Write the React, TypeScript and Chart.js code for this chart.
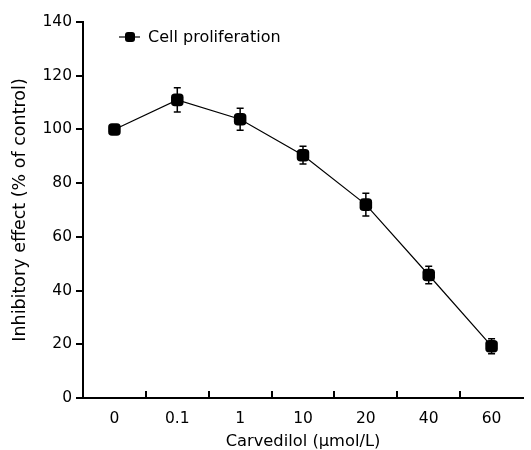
import React, { useEffect, useRef } from "react";
import { Chart, registerables } from "chart.js";

Chart.register(...registerables);

const categories = ["0", "0.1", "1", "10", "20", "40", "60"];
const values = [100, 111, 103.8, 90.4, 72, 45.8, 19.3];
const errors = [1.5, 4.5, 4.1, 3.3, 4.2, 3.3, 2.8];
const yTicks = [0, 20, 40, 60, 80, 100, 120, 140];
const seriesLabel = "Cell proliferation";
const xTitle = "Carvedilol (\u03BCmol/L)";
const yTitle = "Inhibitory effect (% of control)";

const FONT = "'DejaVu Sans', sans-serif";

const errorBarPlugin = {
  id: "errorBars",
  beforeDatasetsDraw(chart: any) {
    const { ctx } = chart;
    const x = chart.scales.x;
    const y = chart.scales.y;
    ctx.save();
    ctx.strokeStyle = "#000";
    ctx.lineWidth = 1.5;
    values.forEach((v, i) => {
      const px = x.getPixelForValue(i);
      const top = y.getPixelForValue(v + errors[i]);
      const bot = y.getPixelForValue(v - errors[i]);
      ctx.beginPath();
      ctx.moveTo(px, top);
      ctx.lineTo(px, bot);
      ctx.moveTo(px - 3.5, top);
      ctx.lineTo(px + 3.5, top);
      ctx.moveTo(px - 3.5, bot);
      ctx.lineTo(px + 3.5, bot);
      ctx.stroke();
    });
    ctx.restore();
  },
  afterDraw(chart: any) {
    const { ctx, chartArea } = chart;
    const x = chart.scales.x;
    ctx.save();
    ctx.strokeStyle = "#000";
    ctx.lineWidth = 2;
    for (let i = 0; i < categories.length - 1; i++) {
      const b = (x.getPixelForValue(i) + x.getPixelForValue(i + 1)) / 2;
      ctx.beginPath();
      ctx.moveTo(Math.round(b), chartArea.bottom);
      ctx.lineTo(Math.round(b), chartArea.bottom - 7);
      ctx.stroke();
    }
    const lx = chartArea.left + 36;
    const ly = chartArea.top + 15;
    ctx.lineWidth = 1.2;
    ctx.beginPath();
    ctx.moveTo(lx, ly);
    ctx.lineTo(lx + 21, ly);
    ctx.stroke();
    ctx.fillStyle = "#000";
    ctx.beginPath();
    (ctx as any).roundRect(lx + 6, ly - 5, 10, 10, 3);
    ctx.fill();
    ctx.font = `16px ${FONT}`;
    ctx.textAlign = "left";
    ctx.textBaseline = "middle";
    ctx.fillText(seriesLabel, lx + 29, ly + 1);
    ctx.restore();
  },
};

export default function App() {
  const ref = useRef<HTMLCanvasElement>(null);
  useEffect(() => {
    document.body.style.margin = "0";
    const chart = new Chart(ref.current!, {
      type: "line",
      data: {
        labels: categories,
        datasets: [
          {
            label: seriesLabel,
            data: values,
            borderColor: "#000",
            borderWidth: 1.2,
            backgroundColor: "#000",
            pointBackgroundColor: "#000",
            pointBorderColor: "#000",
            pointStyle: "rectRounded",
            pointRadius: 7.3,
            pointBorderWidth: 0,
            tension: 0,
          },
        ],
      },
      options: {
        animation: false,
        responsive: false,
        events: [],
        layout: { padding: { top: 22, right: 8, left: 0, bottom: 0 } },
        plugins: {
          legend: { display: false },
          tooltip: { enabled: false },
        },
        scales: {
          x: {
            type: "category",
            offset: true,
            grid: { display: false, drawTicks: false },
            border: { display: true, color: "#000", width: 2 },
            ticks: {
              color: "#000",
              font: { family: FONT, size: 15.5 },
              padding: 12,
              maxRotation: 0,
            },
            title: {
              display: true,
              text: xTitle,
              color: "#000",
              font: { family: FONT, size: 16.3, lineHeight: 1 },
              padding: { top: 0, bottom: 0 },
            },
            afterFit(scale: any) {
              scale.height = 52;
            },
          },
          y: {
            min: 0,
            max: 140,
            afterBuildTicks(scale: any) {
              scale.ticks = yTicks.map((v) => ({ value: v }));
            },
            grid: {
              drawOnChartArea: false,
              drawTicks: true,
              tickLength: 7,
              color: "#000",
              lineWidth: 2,
            },
            border: { display: true, color: "#000", width: 2 },
            ticks: {
              color: "#000",
              font: { family: FONT, size: 15.5 },
              padding: 4,
            },
            title: {
              display: true,
              text: yTitle,
              color: "#000",
              font: { family: FONT, size: 17.5, lineHeight: 1 },
              padding: { top: 12, bottom: 0 },
            },
            afterFit(scale: any) {
              scale.width = 83;
            },
          },
        },
      },
      plugins: [errorBarPlugin],
    });
    return () => chart.destroy();
  }, []);
  return (
    <div style={{ width: 531, height: 450 }}>
      <canvas ref={ref} width={531} height={450} />
    </div>
  );
}
